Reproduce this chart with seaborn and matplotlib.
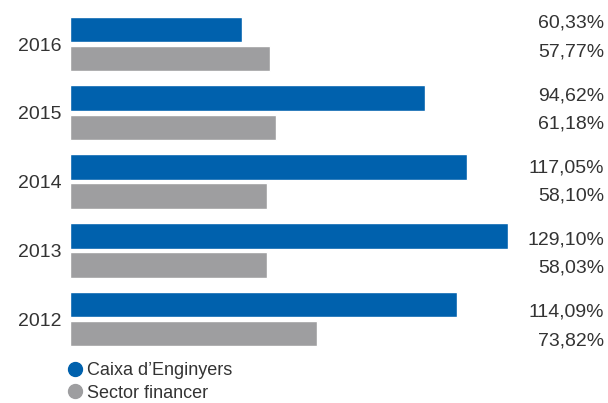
import matplotlib
matplotlib.use("Agg")
import matplotlib.pyplot as plt
from matplotlib.lines import Line2D
import seaborn as sns
import pandas as pd

# ---- data ----
years = ["2016", "2015", "2014", "2013", "2012"]
caixa_values = [50.7, 104.7, 117.05, 129.10, 114.09]      # bar lengths as drawn
sector_values = [59.0, 60.8, 58.10, 58.03, 72.9]
caixa_labels = ["60,33%", "94,62%", "117,05%", "129,10%", "114,09%"]
sector_labels = ["57,77%", "61,18%", "58,10%", "58,03%", "73,82%"]
series_names = ["Caixa d\u2019Enginyers", "Sector financer"]

BLUE = "#0061AD"
GRAY = "#9E9EA0"
TEXT = "#333333"

sns.set_theme(style="white")
plt.rcParams["font.family"] = ["Liberation Sans", "DejaVu Sans"]

df = pd.DataFrame({
    "year": years * 2,
    "value": caixa_values + sector_values,
    "serie": [series_names[0]] * len(years) + [series_names[1]] * len(years),
})

fig = plt.figure(figsize=(6.08, 4.03), dpi=100)
ax = fig.add_axes([70 / 608, 1 - 360 / 403, 538 / 608, 360 / 403])

sns.barplot(data=df, y="year", x="value", hue="serie", order=years,
            hue_order=series_names, palette=[BLUE, GRAY], orient="h",
            width=0.85, gap=0.12, saturation=1, legend=False, ax=ax)

ax.set_xlim(0, 538 / 3.39)
ax.set_ylim(4.596, -0.64)
ax.set_xticks([])
ax.set_xlabel("")
ax.set_ylabel("")
for s in ax.spines.values():
    s.set_visible(False)
ax.tick_params(axis="y", length=0, pad=6, labelsize=14, labelcolor=TEXT)

# value labels at right edge
tr = ax.get_yaxis_transform()
for i, (cl, sl) in enumerate(zip(caixa_labels, sector_labels)):
    yb = -0.30 + 1.05 * i
    ax.text(534 / 538, yb, cl, transform=tr, ha="right", va="center",
            fontsize=14, color=TEXT, clip_on=False)
    ax.text(534 / 538, yb + 0.415, sl, transform=tr, ha="right", va="center",
            fontsize=14, color=TEXT, clip_on=False)

handles = [Line2D([], [], marker="o", linestyle="", markersize=10,
                  markerfacecolor=c, markeredgecolor=c) for c in (BLUE, GRAY)]
fig.legend(handles, series_names, loc="upper left",
           bbox_to_anchor=(68 / 608, 1 - 362 / 403), frameon=False,
           fontsize=13, handlelength=0.8, handletextpad=0.25,
           labelspacing=0.32, borderpad=0, borderaxespad=0,
           labelcolor=TEXT)

fig.savefig("out.png", dpi=100)
